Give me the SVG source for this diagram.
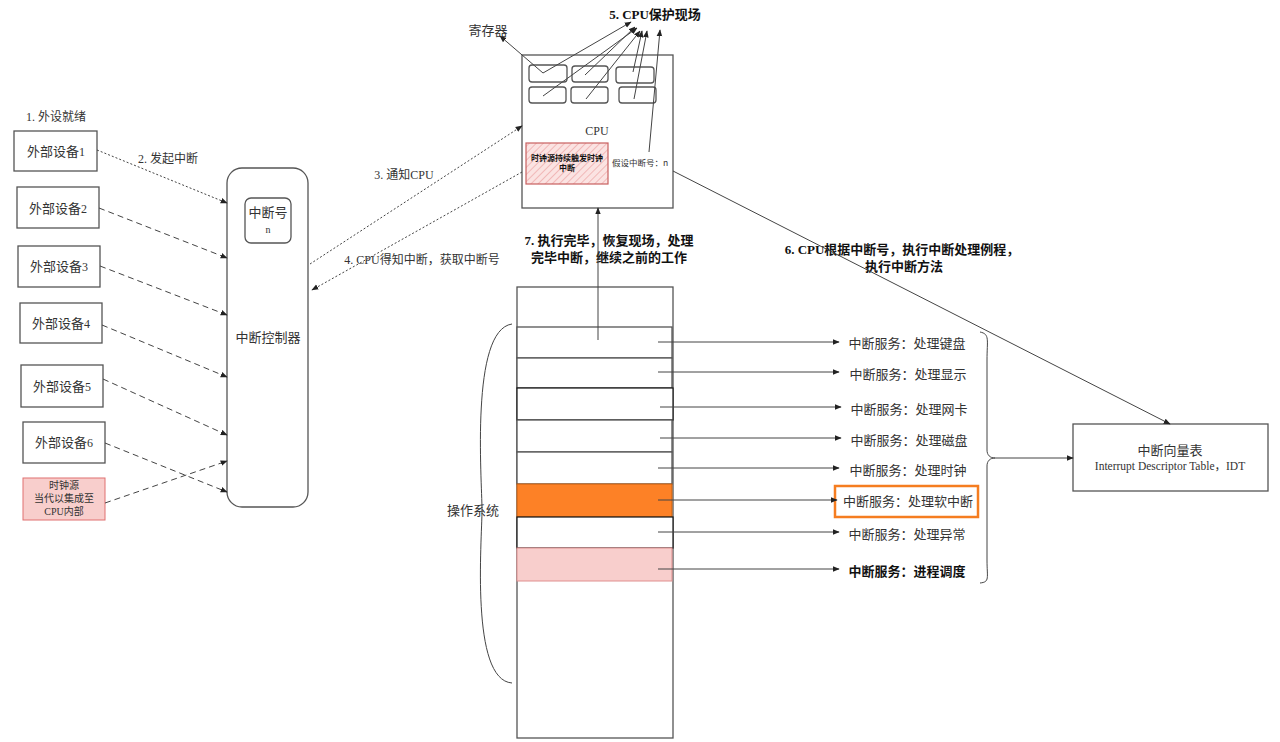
<svg xmlns="http://www.w3.org/2000/svg" width="1280" height="742" viewBox="0 0 1280 742">
<defs>
<style>
.box{fill:#fff;stroke:#555;stroke-width:1.3}
.t{font-family:"Noto Sans CJK SC","Liberation Sans",sans-serif;fill:#333;text-anchor:middle}
.s{font-family:"Liberation Serif","Noto Sans CJK SC",serif}
.b{font-weight:bold;fill:#111}
.ln{fill:none;stroke:#444;stroke-width:1}
.dash{stroke-dasharray:6 4}
.dot{stroke-dasharray:2 2}
</style>
<marker id="ah" viewBox="0 0 10 10" refX="9" refY="5" markerWidth="7" markerHeight="7" orient="auto" markerUnits="userSpaceOnUse">
<path d="M0,1 L10,5 L0,9 z" fill="#222"/>
</marker>
<pattern id="hatch" patternUnits="userSpaceOnUse" width="5" height="5" patternTransform="rotate(45)">
<rect width="5" height="5" fill="#fbe3e2"/>
<line x1="0" y1="0" x2="0" y2="5" stroke="#eaa" stroke-width="1.5"/>
</pattern>
</defs>
<rect width="1280" height="742" fill="#fff"/>

<g id="labels">
<text class="t" x="56" y="121" font-size="12"><tspan class="s">1. </tspan>外设就绪</text>
<text class="t" x="168" y="163" font-size="12"><tspan class="s">2. </tspan>发起中断</text>
<text class="t" x="404" y="179" font-size="12"><tspan class="s">3. </tspan>通知<tspan class="s">CPU</tspan></text>
<text class="t" x="422" y="264" font-size="12"><tspan class="s">4. CPU</tspan>得知中断，获取中断号</text>
<text class="t b" x="655" y="19" font-size="13"><tspan class="s">5. CPU</tspan>保护现场</text>
<text class="t" x="488" y="35" font-size="13">寄存器</text>
<text class="t b" font-size="13"><tspan x="902" y="254"><tspan class="s">6. CPU</tspan>根据中断号，执行中断处理例程，</tspan><tspan x="904" y="271">执行中断方法</tspan></text>
<text class="t b" font-size="13"><tspan x="609" y="245"><tspan class="s">7. </tspan>执行完毕，恢复现场，处理</tspan><tspan x="609" y="262">完毕中断，继续之前的工作</tspan></text>
<text class="t" x="473" y="515" font-size="13">操作系统</text>
</g>

<g id="devices">
<g id="dev1"><rect class="box" x="14" y="131" width="83" height="40"/><text class="t" x="56" y="156" font-size="13">外部设备<tspan class="s" font-size="12">1</tspan></text></g>
<g id="dev2"><rect class="box" x="17" y="187" width="82" height="41"/><text class="t" x="58" y="213" font-size="13">外部设备<tspan class="s" font-size="12">2</tspan></text></g>
<g id="dev3"><rect class="box" x="18" y="246" width="82" height="41"/><text class="t" x="59" y="271" font-size="13">外部设备<tspan class="s" font-size="12">3</tspan></text></g>
<g id="dev4"><rect class="box" x="20" y="303" width="82" height="40"/><text class="t" x="61" y="328" font-size="13">外部设备<tspan class="s" font-size="12">4</tspan></text></g>
<g id="dev5"><rect class="box" x="21" y="365" width="82" height="42"/><text class="t" x="62" y="391" font-size="13">外部设备<tspan class="s" font-size="12">5</tspan></text></g>
<g id="dev6"><rect class="box" x="23" y="422" width="82" height="41"/><text class="t" x="64" y="447" font-size="13">外部设备<tspan class="s" font-size="12">6</tspan></text></g>
<g id="clock"><rect x="23" y="478" width="82" height="42" fill="#f8cecc" stroke="#e07070" stroke-width="1"/>
<text class="t" x="64" y="489" font-size="10">时钟源</text>
<text class="t" x="64" y="502" font-size="10">当代以集成至</text>
<text class="t" x="64" y="515" font-size="10"><tspan class="s">CPU</tspan>内部</text></g>
</g>

<g id="controller">
<rect class="box" x="227" y="168" width="81" height="339" rx="15"/>
<text class="t" x="268" y="342" font-size="13">中断控制器</text>
<g id="irqno"><rect class="box" x="245" y="198" width="46" height="45" rx="6"/>
<text class="t" x="268" y="217" font-size="13">中断号</text>
<text class="t s" x="268" y="233" font-size="10">n</text></g>
</g>

<g id="cpu">
<rect class="box" x="522" y="55" width="151" height="153"/>
<rect class="box" x="529" y="65" width="38" height="17" rx="3"/>
<rect class="box" x="572" y="66" width="36" height="16" rx="3"/>
<rect class="box" x="616" y="67" width="38" height="16" rx="3"/>
<rect class="box" x="529" y="87" width="37" height="16" rx="3"/>
<rect class="box" x="571" y="87" width="37" height="16" rx="3"/>
<rect class="box" x="619" y="87" width="37" height="16" rx="3"/>
<text class="t s" x="597" y="135" font-size="12">CPU</text>
<rect x="526" y="143" width="82" height="41" fill="url(#hatch)" stroke="#c96060" stroke-width="1.2"/>
<text class="t b" x="567" y="161" font-size="8" fill="#333">时钟源持续触发时钟</text>
<text class="t b" x="567" y="171" font-size="8" fill="#333">中断</text>
<text class="t" x="640" y="166" font-size="8.5">假设中断号：n</text>
</g>

<g id="os">
<rect class="box" x="517" y="287" width="156" height="451"/>
<rect class="box" x="517" y="327" width="155" height="31"/>
<rect class="box" x="517" y="358" width="155" height="30"/>
<rect x="517" y="388" width="156" height="32" fill="#fff" stroke="#111" stroke-width="1.2"/>
<rect class="box" x="517" y="420" width="155" height="32"/>
<rect class="box" x="517" y="452" width="155" height="32"/>
<rect x="517" y="484" width="155" height="33" fill="#fd8126" stroke="#c86010" stroke-width="1"/>
<rect x="517" y="517" width="156" height="31" fill="#fff" stroke="#111" stroke-width="1.2"/>
<rect x="517" y="548" width="155" height="33" fill="#f8cecc" stroke="#e08f8f" stroke-width="1"/>
<path class="ln" d="M512,324 C470,330 482,480 482,510 C482,540 470,680 512,683"/>
</g>

<g id="services">
<text class="t" x="907" y="348" font-size="13">中断服务：处理键盘</text>
<text class="t" x="908" y="379" font-size="13">中断服务：处理显示</text>
<text class="t" x="909" y="414" font-size="13">中断服务：处理网卡</text>
<text class="t" x="909" y="445" font-size="13">中断服务：处理磁盘</text>
<text class="t" x="908" y="475" font-size="13">中断服务：处理时钟</text>
<rect x="835" y="486" width="143" height="31" fill="none" stroke="#f57d20" stroke-width="2.5"/>
<text class="t" x="908" y="506" font-size="13">中断服务：处理软中断</text>
<text class="t" x="907" y="539" font-size="13">中断服务：处理异常</text>
<text class="t b" x="907" y="576" font-size="13">中断服务：进程调度</text>
<path class="ln" d="M980,332 C990,334 987,340 987,360 L987,450 C987,455 990,458 995,458 C990,458 987,461 987,466 L987,560 C987,578 990,582 980,583"/>
</g>

<g id="idt">
<rect class="box" x="1073" y="424" width="195" height="67"/>
<text class="t" x="1170" y="455" font-size="13">中断向量表</text>
<text class="t s" x="1170" y="470" font-size="11.5">Interrupt Descriptor Table，IDT</text>
</g>

<g id="connectors">
<path class="ln dot" d="M97,150 L227,203" marker-end="url(#ah)"/>
<path class="ln dash" d="M99,208 L227,258" marker-end="url(#ah)"/>
<path class="ln dash" d="M100,266 L227,315" marker-end="url(#ah)"/>
<path class="ln dash" d="M102,325 L227,377" marker-end="url(#ah)"/>
<path class="ln dash" d="M103,379 L227,435" marker-end="url(#ah)"/>
<path class="ln dash" d="M105,443 L227,492" marker-end="url(#ah)"/>
<path class="ln dash" d="M105,503 L227,461" marker-end="url(#ah)"/>
<path class="ln dot" d="M310,264 L522,126" marker-end="url(#ah)"/>
<path class="ln dot" d="M522,172 L312,290" marker-end="url(#ah)"/>
<path class="ln" d="M543,73 L500,36" marker-end="url(#ah)"/>
<path class="ln" d="M543,73 L631,22" marker-end="url(#ah)"/>
<path class="ln" d="M585,75 L635,27" marker-end="url(#ah)"/>
<path class="ln" d="M543,96 L637,28" marker-end="url(#ah)"/>
<path class="ln" d="M586,99 L640,31" marker-end="url(#ah)"/>
<path class="ln" d="M633,72 L642,31" marker-end="url(#ah)"/>
<path class="ln" d="M634,99 L647,31" marker-end="url(#ah)"/>
<path class="ln" d="M649,152 L660,30" marker-end="url(#ah)"/>
<path class="ln" d="M673,171 L1170,424" marker-end="url(#ah)"/>
<path class="ln" d="M598,340 L598,208" marker-end="url(#ah)"/>
<path class="ln" d="M658,342 L839,342" marker-end="url(#ah)"/>
<path class="ln" d="M658,372 L839,372" marker-end="url(#ah)"/>
<path class="ln" d="M660,407 L841,407" marker-end="url(#ah)"/>
<path class="ln" d="M660,438 L841,438" marker-end="url(#ah)"/>
<path class="ln" d="M658,468 L839,468" marker-end="url(#ah)"/>
<path class="ln" d="M658,500 L837,500" marker-end="url(#ah)"/>
<path class="ln" d="M658,532 L839,532" marker-end="url(#ah)"/>
<path class="ln" d="M658,569 L839,569" marker-end="url(#ah)"/>
<path class="ln" d="M995,458 L1073,458" marker-end="url(#ah)"/>
</g>
</svg>
